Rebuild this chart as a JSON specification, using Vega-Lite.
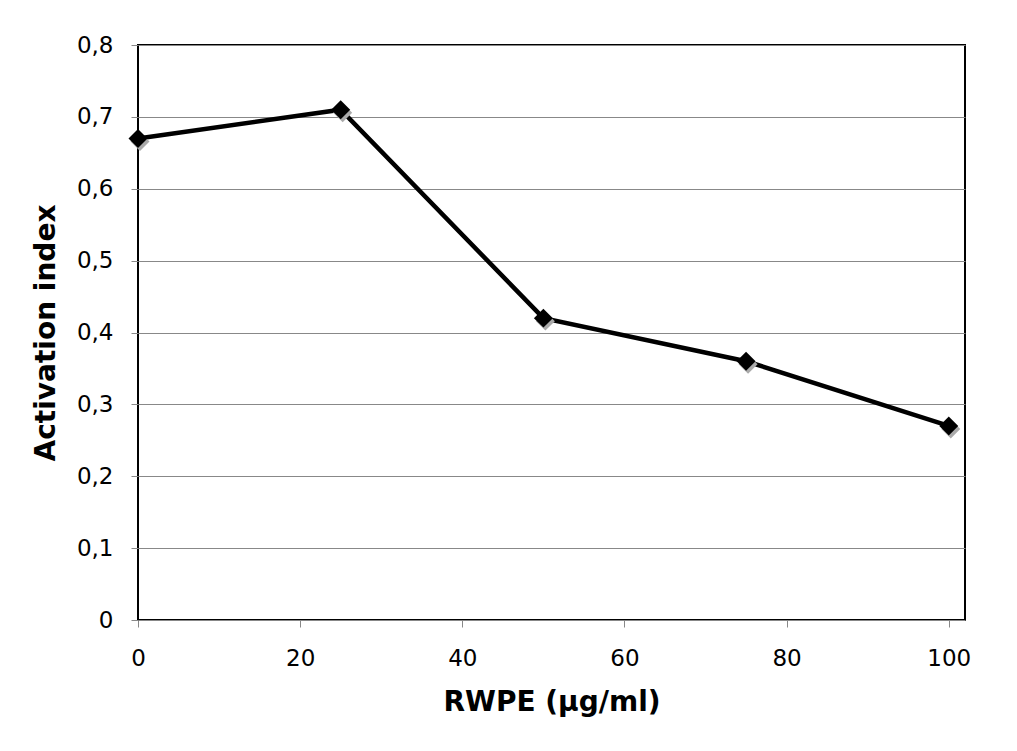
{
  "$schema": "https://vega.github.io/schema/vega-lite/v6.json",
  "autosize": "none",
  "width": 827,
  "height": 575,
  "padding": {"left": 138, "top": 45, "right": 52, "bottom": 131},
  "background": "white",
  "config": {
    "locale": {"number": {"decimal": ",", "thousands": ".", "grouping": [3], "currency": ["", ""]}},
    "font": "DejaVu Sans",
    "view": {"stroke": "black", "strokeWidth": 2},
    "axis": {
      "labelFont": "DejaVu Sans",
      "titleFont": "DejaVu Sans",
      "labelFontSize": 23,
      "titleFontSize": 28,
      "labelColor": "black",
      "titleColor": "black",
      "titleFontWeight": "bold",
      "tickColor": "#888",
      "tickSize": 7,
      "domain": false,
      "gridColor": "#888",
      "gridWidth": 1,
      "labelFlush": false
    }
  },
  "data": {
    "values": [
      {"x": 0, "y": 0.67},
      {"x": 25, "y": 0.71},
      {"x": 50, "y": 0.42},
      {"x": 75, "y": 0.36},
      {"x": 100, "y": 0.27}
    ]
  },
  "encoding": {
    "x": {
      "field": "x", "type": "quantitative",
      "scale": {"domain": [0, 102], "nice": false},
      "axis": {"values": [0, 20, 40, 60, 80, 100], "grid": false, "title": "RWPE (µg/ml)", "labelPadding": 20, "titlePadding": 18}
    },
    "y": {
      "field": "y", "type": "quantitative",
      "scale": {"domain": [0, 0.8], "nice": false},
      "axis": {"values": [0, 0.1, 0.2, 0.3, 0.4, 0.5, 0.6, 0.7, 0.8], "format": ".1~f", "grid": true, "title": "Activation index", "labelPadding": 18, "titlePadding": 16}
    }
  },
  "layer": [
    {"mark": {"type": "line", "color": "black", "strokeWidth": 4.5}},
    {"mark": {"type": "point", "shape": "diamond", "filled": true, "size": 360, "color": "#aaa", "opacity": 1, "xOffset": 2, "yOffset": 3}},
    {"mark": {"type": "point", "shape": "diamond", "filled": true, "size": 360, "color": "black", "opacity": 1}}
  ]
}
